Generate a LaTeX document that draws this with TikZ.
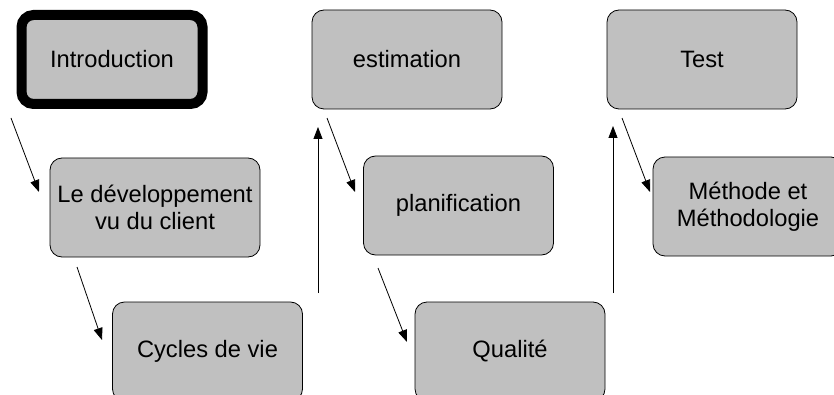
\documentclass[tikz,border=0pt]{standalone}
\usepackage{fontspec}
\setmainfont{Liberation Sans}
\usepackage{tikz}
\usetikzlibrary{arrows.meta}
\definecolor{boxgray}{RGB}{192,192,192}

\tikzset{
	etape/.style={draw, fill=boxgray, rounded corners=12pt, line width=0.8pt,
		minimum width=190pt, minimum height=99pt, align=center,
		font=\fontsize{23.7}{27.5}\selectfont},
	fleche/.style={line width=0.8pt, -{Triangle[length=12pt,width=9pt]}}
}

\begin{document}
\begin{tikzpicture}[x=1pt,y=1pt]
	\useasboundingbox (0,0) rectangle (834,394);
	% les etapes
	\node[etape, line width=10pt, minimum width=181pt, minimum height=89pt] (intro) at (112,334.5) {Introduction};
	\node[etape, minimum width=210pt] (devclient) at (155,186.5) {Le développement\\vu du client};
	\node[etape] (cycles) at (207.5,42.5) {Cycles de vie};
	\node[etape] (estim) at (407,334.5) {estimation};
	\node[etape] (planif) at (458.5,188.5) {planification};
	\node[etape] (qualite) at (510,42.5) {Qualité};
	\node[etape] (test) at (702,334.5) {Test};
	\node[etape] (methode) at (748,187.5) {Méthode et\\Méthodologie};
	% bouts des fleches
	\coordinate (a1s) at (11,276);  \coordinate (a1e) at (39,202);
	\coordinate (a2s) at (77,127);  \coordinate (a2e) at (102,54);
	\coordinate (v1s) at (318,101); \coordinate (v1e) at (318,267);
	\coordinate (a3s) at (327,276); \coordinate (a3e) at (355,202);
	\coordinate (a4s) at (378,126); \coordinate (a4e) at (407,52);
	\coordinate (v2s) at (613,101); \coordinate (v2e) at (613,268);
	\coordinate (a5s) at (622,276); \coordinate (a5e) at (650,202);
	\draw[fleche] (a1s) -- (a1e);
	\draw[fleche] (a2s) -- (a2e);
	\draw[fleche] (v1s) -- (v1e);
	\draw[fleche] (a3s) -- (a3e);
	\draw[fleche] (a4s) -- (a4e);
	\draw[fleche] (v2s) -- (v2e);
	\draw[fleche] (a5s) -- (a5e);
\end{tikzpicture}
\end{document}
